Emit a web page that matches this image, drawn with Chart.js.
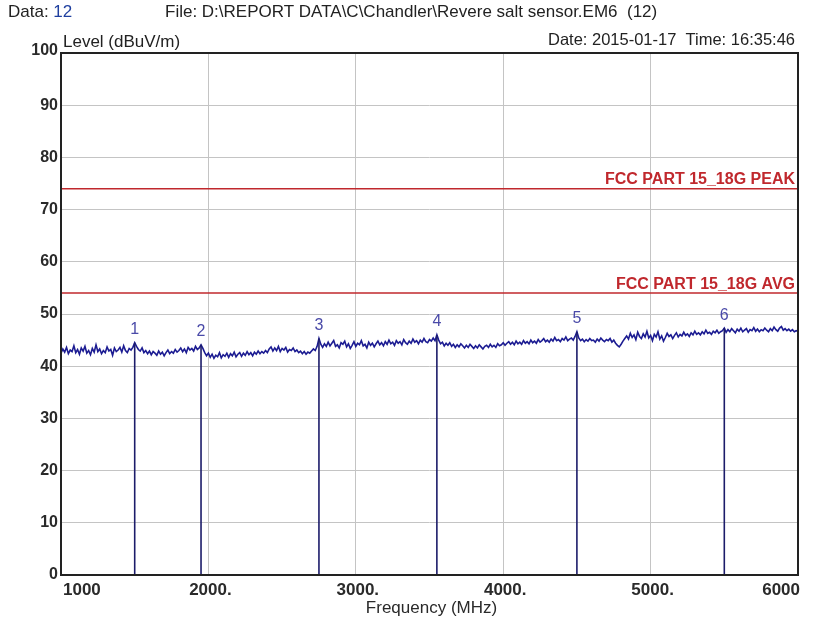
<!DOCTYPE html>
<html>
<head>
<meta charset="utf-8">
<script src="https://cdn.jsdelivr.net/npm/chart.js@4.4.1/dist/chart.umd.min.js"></script>
<style>
  body { margin: 0; background: #fff; }
  #wrap { width: 816px; height: 622px; position: relative; }
</style>
</head>
<body>
<div id="wrap"><canvas id="emc-chart"></canvas></div>
<script>
// sweep grid (MHz)
const freqStart = 1000
const freqStep = 12.5

// measured level, dBuV/m, one value per sweep step
const levels = [
  42.5, 43.3, 42.7, 43.6, 42.4, 43.1, 42.8, 43.9, 42.6, 43.2,
  42.3, 43.5, 42.9, 43.8, 42.5, 43.0, 42.2, 43.4, 42.7, 44.1,
  42.8, 43.3, 42.4, 43.0, 42.6, 43.7, 42.9, 43.2, 42.1, 43.5,
  42.8, 43.1, 43.6, 42.7, 43.9, 43.0, 42.6, 43.4, 43.1, 43.6,
  44.5,
  43.8, 43.2, 42.9, 43.5, 42.6, 43.0, 42.4, 42.9, 42.2, 42.8,
  42.5, 42.1, 42.9, 42.3, 42.7, 42.0, 42.6, 43.1, 42.4, 42.8,
  42.5, 43.2, 42.7, 43.0, 43.5, 42.8, 43.3, 42.6, 43.6, 43.1,
  43.4, 42.9, 43.8, 43.2, 43.5,
  44.1,
  43.4, 42.6, 42.0, 42.5, 41.7, 42.3, 41.5, 42.1, 41.8, 42.6,
  41.6, 42.2, 41.9, 42.5, 41.7, 42.4, 42.0, 42.7, 41.8, 42.3,
  42.6, 41.9, 42.5, 42.1, 42.8, 42.2, 42.6, 42.0, 42.7, 42.3,
  42.9, 42.4, 42.8, 42.5, 43.0,
  42.6, 43.3, 43.7, 42.9, 43.5, 43.0, 43.8, 42.8, 43.4, 43.1,
  43.6, 42.7, 43.2, 43.0, 43.5, 42.8, 43.1, 42.6, 42.9, 42.4,
  42.8, 42.3, 42.7, 42.5, 42.9, 43.3, 43.0, 43.8,
  45.3,
  44.2, 43.6, 44.3, 43.8, 44.6, 43.9, 44.4, 44.9, 43.8, 44.1,
  43.5, 44.5, 44.2, 44.8, 43.7, 44.3, 43.4, 44.0, 44.7, 43.8,
  44.4, 44.1, 44.9, 43.9, 44.2, 43.5, 44.6, 44.0, 44.4, 43.7,
  44.3, 44.8, 44.1, 44.5, 43.9, 44.7, 44.2, 45.0, 44.3, 44.6,
  44.0, 44.9, 44.4, 44.7, 44.1, 45.1, 44.5, 44.2, 44.8, 44.4,
  45.2, 44.6, 44.9, 44.3, 45.0, 44.6, 45.3, 44.7, 44.5, 45.1,
  44.8, 45.4, 44.9,
  46.0,
  45.0, 44.3, 44.6, 43.9, 44.4, 44.0, 44.5, 43.8, 44.2, 43.6,
  44.1, 43.7, 44.3, 43.9, 43.5, 44.0, 43.6, 44.2, 43.8, 43.4,
  43.9, 43.5, 44.1, 43.7, 43.3, 43.8, 44.0, 43.6, 44.2, 43.7,
  44.0, 43.6, 44.3, 43.9,
  44.1, 44.5, 44.0, 44.4, 44.7, 44.2, 44.6, 44.1, 44.8, 44.3,
  44.6, 44.2, 44.9, 44.4, 44.7, 44.3, 45.0, 44.5, 44.8, 44.4,
  45.1, 44.6, 44.9, 45.3, 44.7, 45.0, 44.6, 45.2, 44.8, 45.5,
  44.9, 45.1, 44.7, 45.3, 45.0, 45.6, 44.9, 45.2, 45.4, 45.0,
  45.7,
  46.6,
  45.4, 44.9, 45.2, 44.7, 45.1, 44.8, 45.3, 44.9, 45.0, 44.6,
  45.2, 44.8, 45.4, 45.0, 44.7, 45.1, 44.9, 45.3, 44.6, 45.0,
  44.4, 44.0, 43.7, 44.2, 44.8, 45.3,
  45.8, 45.2, 46.3, 45.5, 46.0, 45.1, 46.5, 45.7, 45.3, 46.2,
  45.6, 46.7, 45.4, 45.9, 44.9, 46.1, 45.6, 46.6, 45.2, 45.8,
  44.8, 45.5, 46.3, 45.7, 46.0, 45.3, 45.9, 46.4, 45.6, 46.1,
  45.8, 46.5, 45.9, 46.2, 45.7, 46.4, 46.0, 46.7, 46.1, 46.4,
  46.0, 46.6, 46.2, 46.9, 46.3, 46.5, 46.1, 46.7, 46.4, 46.9,
  46.3, 46.6, 46.8,
  47.3,
  46.5, 47.0, 46.6, 47.2, 46.8, 46.4, 47.1, 46.7, 47.3, 46.6,
  46.9, 47.2, 46.5, 47.0, 46.8, 47.4, 46.7, 47.1, 46.6, 47.0,
  46.8, 47.3, 46.9, 46.6, 47.2, 46.8, 47.5, 47.0, 46.7, 47.3,
  47.6, 46.9, 47.2, 46.8, 47.1, 46.7, 47.0, 46.6, 46.8, 46.7
]

const markerNames = ['1', '2', '3', '4', '5', '6']
const markerFreqs = [1500, 1950, 2750, 3550, 4500, 5500]
const markerLevels = [44.5, 44.1, 45.3, 46.0, 46.6, 47.3]

const limitNames = ['FCC PART 15_18G PEAK', 'FCC PART 15_18G AVG']
const limitLevels = [74, 54]

const xTicks = [1000, 2000, 3000, 4000, 5000, 6000]
const xTickLabels = ['1000', '2000.', '3000.', '4000.', '5000.', '6000']
const yTicks = [0, 10, 20, 30, 40, 50, 60, 70, 80, 90, 100]

const FONT = '"Liberation Sans", Arial, sans-serif'

const trace = levels.map((v, i) => ({ x: freqStart + i * freqStep, y: v }))

const datasets = []
limitLevels.forEach(lv => {
  datasets.push({
    data: [{ x: xTicks[0], y: lv }, { x: xTicks[xTicks.length - 1], y: lv }],
    borderColor: '#c0282d',
    borderWidth: 1.5,
    pointRadius: 0
  })
})
markerFreqs.forEach((f, i) => {
  datasets.push({
    data: [{ x: f, y: 0 }, { x: f, y: markerLevels[i] }],
    borderColor: '#1c1c6a',
    borderWidth: 1.6,
    pointRadius: 0
  })
})
datasets.push({
  data: trace,
  borderColor: '#1c1c92',
  borderWidth: 1.6,
  pointRadius: 0,
  tension: 0
})

const textPlugin = {
  id: 'reportText',
  beforeDraw(chart) {
    const c = chart.ctx
    c.save()
    c.fillStyle = '#fff'
    c.fillRect(0, 0, chart.width, chart.height)
    c.restore()
  },
  afterDraw(chart) {
    const c = chart.ctx
    const a = chart.chartArea
    const sx = chart.scales.x
    const sy = chart.scales.y
    c.save()

    // frame
    c.strokeStyle = '#222'
    c.lineWidth = 2
    c.strokeRect(a.left, a.top, a.right - a.left, a.bottom - a.top)

    // y tick labels
    c.fillStyle = '#2a2a2a'
    c.font = 'bold 16px ' + FONT
    c.textAlign = 'right'
    c.textBaseline = 'middle'
    yTicks.forEach(v => {
      let yy = sy.getPixelForValue(v)
      if (v === 100) yy -= 2
      c.fillText(String(v), a.left - 3, yy)
    })

    // x tick labels
    c.font = 'bold 17px ' + FONT
    xTicks.forEach((v, i) => {
      const xx = sx.getPixelForValue(v)
      if (i === 0) { c.textAlign = 'left'; c.fillText(xTickLabels[i], xx + 2, a.bottom + 15) }
      else if (i === xTicks.length - 1) { c.textAlign = 'right'; c.fillText(xTickLabels[i], xx + 2, a.bottom + 15) }
      else { c.textAlign = 'center'; c.fillText(xTickLabels[i], xx + 2, a.bottom + 15) }
    })

    c.font = '17px ' + FONT
    c.textAlign = 'center'
    c.fillText('Frequency (MHz)', (a.left + a.right) / 2 + 2, a.bottom + 33)

    // header
    c.textAlign = 'left'
    c.fillStyle = '#222'
    c.font = '17px ' + FONT
    c.fillText('Data: ', 8, 12)
    const w = c.measureText('Data: ').width
    c.fillStyle = '#1f3f9f'
    c.fillText('12', 8 + w, 12)
    c.fillStyle = '#222'
    c.fillText('File: D:\\REPORT DATA\\C\\Chandler\\Revere salt sensor.EM6  (12)', 165, 12)
    c.fillText('Level (dBuV/m)', a.left + 2, a.top - 11)
    c.font = '16.5px ' + FONT
    c.textAlign = 'right'
    c.fillText('Date: 2015-01-17  Time: 16:35:46', a.right - 3, a.top - 13)

    // limit line labels
    c.fillStyle = '#c0282d'
    c.font = 'bold 16px ' + FONT
    c.textBaseline = 'bottom'
    limitLevels.forEach((lv, i) => {
      c.fillText(limitNames[i], a.right - 3, sy.getPixelForValue(lv) - 1)
    })

    // marker labels
    c.fillStyle = '#4a4aa8'
    c.font = '16px ' + FONT
    c.textAlign = 'center'
    markerFreqs.forEach((f, i) => {
      c.fillText(markerNames[i], sx.getPixelForValue(f), sy.getPixelForValue(markerLevels[i]) - 5)
    })
    c.restore()
  }
}

const ctx = document.getElementById('emc-chart').getContext('2d')

new Chart(ctx, {
  type: 'line',
  data: { datasets },
  options: {
    responsive: true,
    maintainAspectRatio: false,
    animation: false,
    layout: { padding: { left: 61, right: 18, top: 53, bottom: 47 } },
    plugins: {
      legend: { display: false },
      tooltip: { enabled: false }
    },
    scales: {
      x: {
        type: 'linear',
        min: 1000,
        max: 6000,
        ticks: { stepSize: 1000, display: false },
        grid: { color: '#c4c4c4', lineWidth: 1, drawTicks: false },
        border: { display: false },
        afterFit: s => { s.height = 0 }
      },
      y: {
        min: 0,
        max: 100,
        ticks: { stepSize: 10, display: false },
        grid: { color: '#c4c4c4', lineWidth: 1, drawTicks: false },
        border: { display: false },
        afterFit: s => { s.width = 0 }
      }
    }
  },
  plugins: [textPlugin]
});
</script>
</body>
</html>
